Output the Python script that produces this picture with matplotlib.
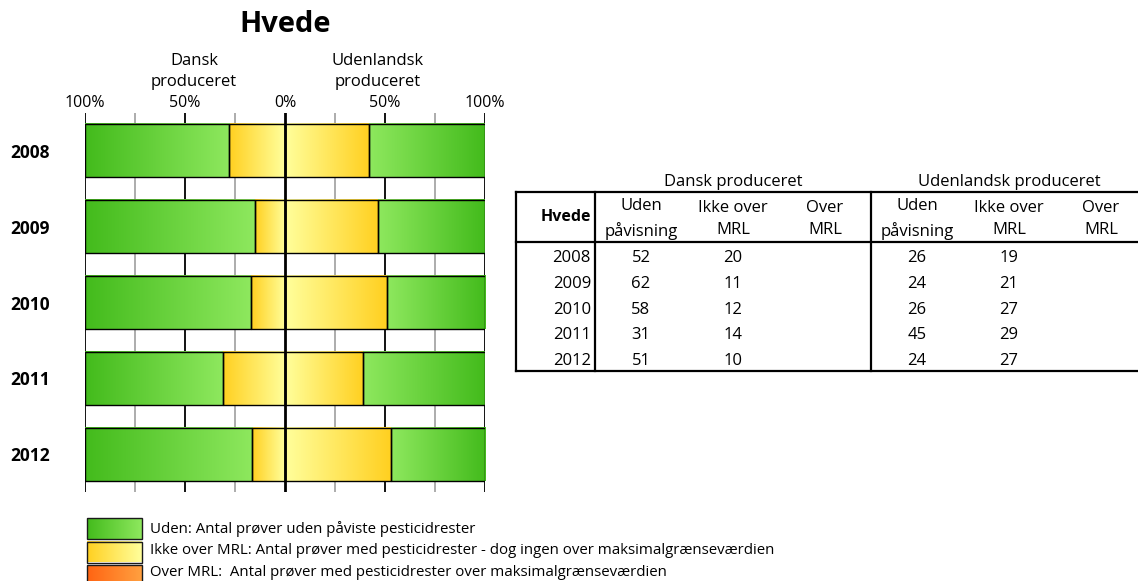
import numpy as np
import matplotlib.pyplot as plt
from matplotlib.colors import LinearSegmentedColormap
from matplotlib.patches import Rectangle
from matplotlib.transforms import blended_transform_factory

plt.rcParams['font.family'] = ['Open Sans', 'DejaVu Sans']

# data: antal proever, hvede
years = ['2008', '2009', '2010', '2011', '2012']
dk_uden = [52, 62, 58, 31, 51]
dk_ikke = [20, 11, 12, 14, 10]
dk_over = [0, 0, 0, 0, 0]
ud_uden = [26, 24, 26, 45, 24]
ud_ikke = [19, 21, 27, 29, 27]
ud_over = [0, 0, 0, 0, 0]

tick_pos = [-100, -50, 0, 50, 100]
tick_labels = ['100%', '50%', '0%', '50%', '100%']
grid_pos = [-100, -75, -50, -25, 25, 50, 75, 100]
col_heads = ['Uden\npåvisning', 'Ikke over\nMRL', 'Over\nMRL']
legend_labels = [
    'Uden: Antal prøver uden påviste pesticidrester',
    'Ikke over MRL: Antal prøver med pesticidrester - dog ingen over maksimalgrænseværdien',
    'Over MRL:  Antal prøver med pesticidrester over maksimalgrænseværdien',
]

green = LinearSegmentedColormap.from_list('g', ['#43bb1c', '#8ee85e'])
yellow = LinearSegmentedColormap.from_list('y', ['#ffd020', '#ffff9c'])
orange = LinearSegmentedColormap.from_list('o', ['#ff6412', '#ffa040'])
grad = np.linspace(0, 1, 256).reshape(1, -1)

W, H = 1138, 581
fig = plt.figure(figsize=(W / 100, H / 100), dpi=100)
ax = fig.add_axes([85 / W, 1 - 492 / H, 400 / W, 379 / H])
y = np.arange(len(years))


def draw_side(series, cmaps, sign):
    totals = np.sum(series, axis=0)
    start = np.zeros(len(years))
    for vals, cmap in zip(series, cmaps):
        frac = np.array(vals) / totals * 100
        idx = np.nonzero(frac)[0]
        bars = ax.barh(y[idx], sign * frac[idx], left=sign * start[idx], height=0.7,
                       color='none', edgecolor='black', linewidth=1, zorder=3)
        for b in bars:
            x0, x1 = sorted([b.get_x(), b.get_x() + b.get_width()])
            g = grad if sign < 0 else grad[:, ::-1]
            ax.imshow(g, cmap=cmap, extent=[x0, x1, b.get_y() + b.get_height(), b.get_y()],
                      aspect='auto', interpolation='bilinear', zorder=2)
        start += frac


# center -> outward: over, ikke over, uden
draw_side([dk_over, dk_ikke, dk_uden], [orange, yellow, green], -1)
draw_side([ud_over, ud_ikke, ud_uden], [orange, yellow, green], 1)

for g in grid_pos:
    ax.axvline(g, color='black' if g % 50 == 0 else '#a6a6a6', lw=1.3, zorder=1)
ax.axvline(0, color='black', lw=2, zorder=4)

ax.set_xlim(-100, 100)
ax.set_ylim(len(years) - 0.5, -0.5)
ax.set_aspect('auto')
ax.xaxis.tick_top()
ax.set_xticks(tick_pos, tick_labels)
ax.tick_params(axis='x', length=0, pad=1.5, labelsize=11.5)
ax.set_yticks(y, years, fontweight='bold', fontsize=12.5)
ax.tick_params(axis='y', length=0, pad=25)
for s in ax.spines.values():
    s.set_visible(False)

tr = blended_transform_factory(ax.transData, ax.transAxes)
ax.text(-45.5, 1.11, 'Dansk\nproduceret', transform=tr, ha='center', va='center',
        fontsize=12, linespacing=1.38)
ax.text(46.5, 1.11, 'Udenlandsk\nproduceret', transform=tr, ha='center', va='center',
        fontsize=12, linespacing=1.38)

# overlay in pixel coords for title, table and legend
ov = fig.add_axes([0, 0, 1, 1])
ov.axis('off')
ov.text(285, 25, 'Hvede', ha='center', va='center', fontsize=21, fontweight='bold')

t_left, t_right = 516, 1138
t_top, t_head, t_bot = 192, 242, 371
t_split = [595, 871]
col_w = 92
row_h = 25.8
for yy in [t_top, t_head, t_bot]:
    ov.plot([t_left, t_right], [yy, yy], color='black', lw=1.6)
for xx in [t_left] + t_split:
    ov.plot([xx, xx], [t_top, t_bot], color='black', lw=1.6)

ov.text(591, (t_top + t_head) / 2, 'Hvede', ha='right', va='center', fontsize=11.5, fontweight='bold')
groups = [('Dansk produceret', dk_uden, dk_ikke, dk_over),
          ('Udenlandsk produceret', ud_uden, ud_ikke, ud_over)]
for gi, (name, uden, ikke, over) in enumerate(groups):
    x_start = t_split[gi]
    centers = [x_start + col_w * (i + 0.5) for i in range(3)]
    ov.text(x_start + col_w * 1.5, 182, name, ha='center', va='center', fontsize=12)
    for c, head in zip(centers, col_heads):
        ov.text(c, (t_top + t_head) / 2 + 2, head, ha='center', va='center',
                fontsize=12, linespacing=1.55)
    for r in range(len(years)):
        ry = t_head + 16 + row_h * r
        for c, vals in zip(centers, [uden, ikke, over]):
            ov.text(c, ry, str(vals[r]) if vals[r] else '', ha='center', va='center', fontsize=12)
for r, yr in enumerate(years):
    ov.text(591, t_head + 16 + row_h * r, yr, ha='right', va='center', fontsize=12)

for i, (lab, cmap) in enumerate(zip(legend_labels, [green, yellow, orange])):
    y0 = 518 + 23.5 * i
    ov.imshow(grad, cmap=cmap, extent=[87, 142, y0 + 21, y0], aspect='auto',
              interpolation='bilinear')
    ov.add_patch(Rectangle((87, y0), 55, 21, fill=False, ec='#1a1a1a', lw=1))
    ov.text(150, 529 + 22 * i, lab, ha='left', va='center', fontsize=10.8)

ov.set_xlim(0, W)
ov.set_ylim(H, 0)
ov.set_aspect('auto')

fig.savefig('out.png', dpi=100)
